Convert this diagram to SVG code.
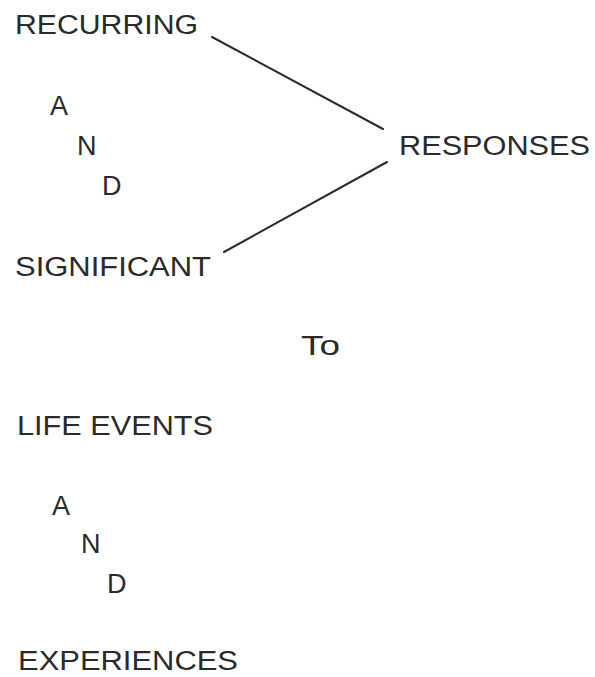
<svg xmlns="http://www.w3.org/2000/svg" width="595" height="677" viewBox="0 0 595 677">
<style>
text{font-family:"Liberation Sans","DejaVu Sans",sans-serif;font-size:27px;fill:#2a2a2a}
.c{stroke:#2a2a2a;stroke-width:2;fill:none;stroke-linecap:round}
</style>
<rect width="595" height="677" fill="#ffffff"/>
<g id="recurring"><text x="15" y="34" textLength="183" lengthAdjust="spacingAndGlyphs">RECURRING</text></g>
<g id="and1">
<text x="50" y="115">A</text>
<text x="77" y="155">N</text>
<text x="102" y="195">D</text>
</g>
<g id="responses"><text x="399" y="155" textLength="191" lengthAdjust="spacingAndGlyphs">RESPONSES</text></g>
<g id="significant"><text x="15" y="276" textLength="196" lengthAdjust="spacingAndGlyphs">SIGNIFICANT</text></g>
<g id="to"><text x="301" y="355" textLength="39" lengthAdjust="spacingAndGlyphs">To</text></g>
<g id="life-events"><text x="17" y="435" textLength="196" lengthAdjust="spacingAndGlyphs">LIFE EVENTS</text></g>
<g id="and2">
<text x="52" y="515">A</text>
<text x="81" y="553">N</text>
<text x="107" y="593">D</text>
</g>
<g id="experiences"><text x="18" y="670" textLength="220" lengthAdjust="spacingAndGlyphs">EXPERIENCES</text></g>
<g id="connectors">
<line class="c" x1="212" y1="37" x2="383" y2="129"/>
<line class="c" x1="387" y1="162" x2="224" y2="252"/>
</g>
</svg>
